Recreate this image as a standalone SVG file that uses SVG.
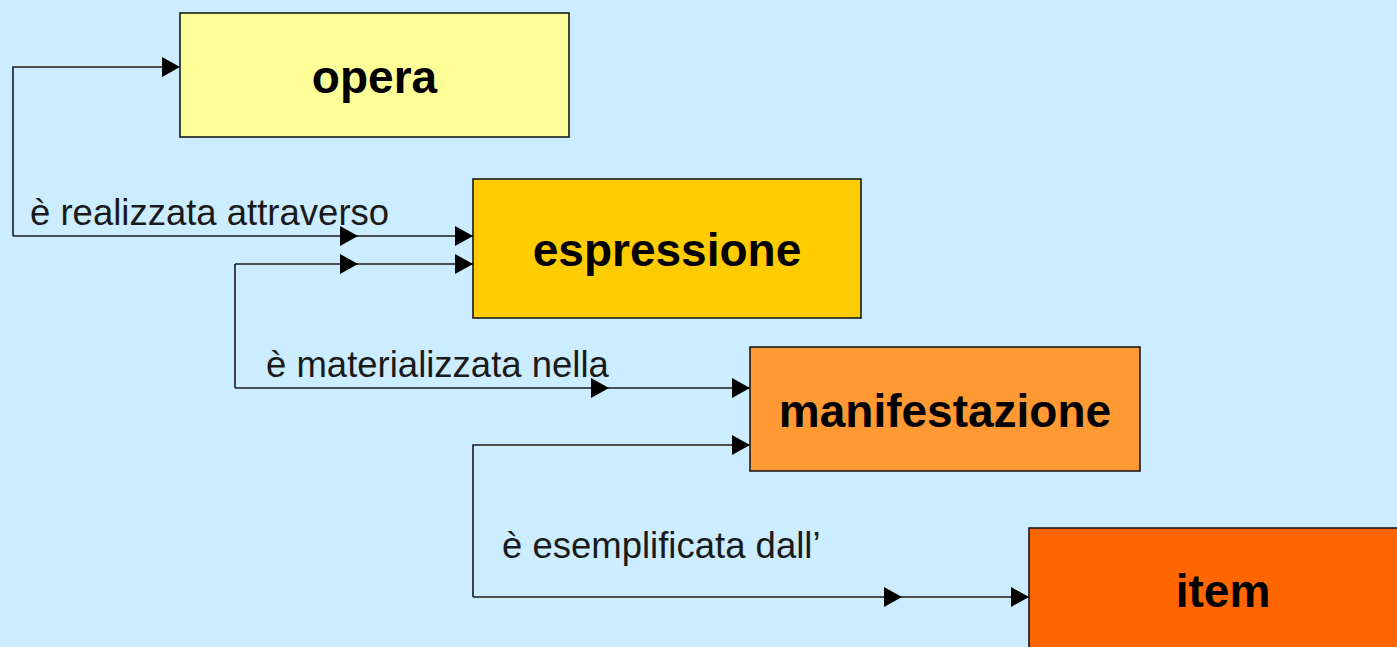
<svg xmlns="http://www.w3.org/2000/svg" width="1397" height="647" viewBox="0 0 1397 647">
<style>
.box{stroke:#1a1a1a;stroke-width:1.6}
.title{font-family:"Liberation Sans",Arial,sans-serif;font-weight:bold;font-size:46px;fill:#000;text-anchor:middle}
.lbl{font-family:"Liberation Sans",Arial,sans-serif;font-size:36.5px;fill:#1a1a1a}
.c{fill:none;stroke:#1a1a1a;stroke-width:1.6;marker-end:url(#ah)}
.n{fill:none;stroke:#1a1a1a;stroke-width:1.6}
</style>
<defs>
<marker id="ah" markerUnits="userSpaceOnUse" markerWidth="20" markerHeight="20" viewBox="0 0 18 20" refX="18" refY="10" orient="auto">
<path d="M0,0 L18,10 L0,20 Z" fill="#000"/>
</marker>
</defs>
<rect width="1397" height="647" fill="#CCECFF"/>
<g id="opera">
<rect class="box" x="180" y="13" width="389" height="124" fill="#FFFF99"/>
<text class="title" x="374.5" y="93">opera</text>
</g>
<g id="espressione">
<rect class="box" x="473" y="179" width="388" height="139" fill="#FFCC00"/>
<text class="title" x="667" y="266">espressione</text>
</g>
<g id="manifestazione">
<rect class="box" x="750" y="347" width="390" height="124" fill="#FF9933"/>
<text class="title" x="945" y="427">manifestazione</text>
</g>
<g id="item">
<rect class="box" x="1029" y="528" width="390" height="124" fill="#FF6600"/>
<text class="title" x="1223" y="607">item</text>
</g>
<g id="connectors">
<path class="c" d="M13,236 V67 H180"/>
<path class="c" d="M13,236 H358"/>
<path class="c" d="M358,236 H473"/>
<path class="n" d="M235,388 V264"/>
<path class="c" d="M235,264 H358"/>
<path class="c" d="M358,264 H473"/>
<path class="c" d="M235,388 H609"/>
<path class="c" d="M609,388 H750"/>
<path class="c" d="M473,597 V445 H750"/>
<path class="c" d="M473,597 H902"/>
<path class="c" d="M902,597 H1029"/>
<text class="lbl" x="30" y="225">è realizzata attraverso</text>
<text class="lbl" x="266" y="377">è materializzata nella</text>
<text class="lbl" x="502" y="558">è esemplificata dall’</text>
</g>
</svg>
